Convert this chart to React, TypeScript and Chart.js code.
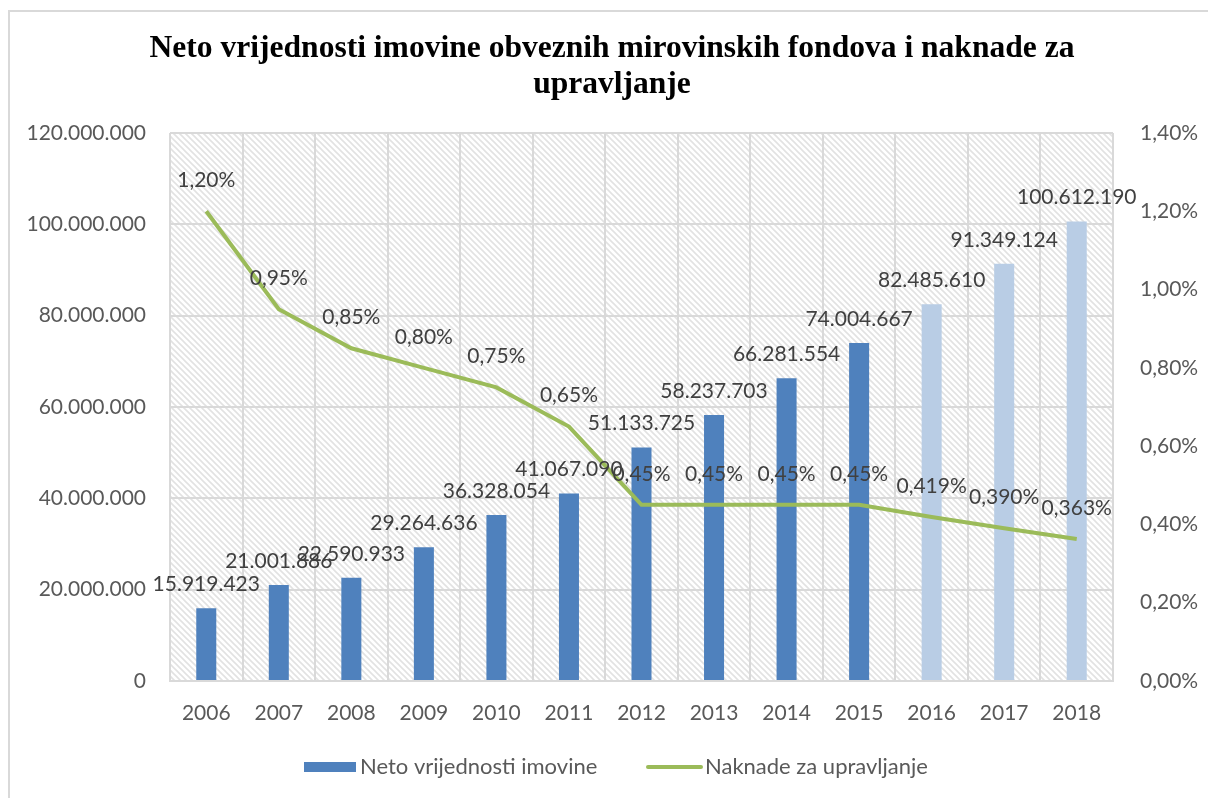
import React, { useEffect, useRef } from "react";
import { Chart, registerables } from "chart.js";

Chart.register(...registerables);

const titleLines = [
  "Neto vrijednosti imovine obveznih mirovinskih fondova i naknade za",
  "upravljanje",
];
const years = ["2006", "2007", "2008", "2009", "2010", "2011", "2012", "2013", "2014", "2015", "2016", "2017", "2018"];
const netAssets = [
  15919423, 21001886, 22590933, 29264636, 36328054, 41067090, 51133725, 58237703, 66281554, 74004667, 82485610,
  91349124, 100612190,
];
const managementFees = [1.2, 0.95, 0.85, 0.8, 0.75, 0.65, 0.45, 0.45, 0.45, 0.45, 0.419, 0.39, 0.363];
const isProjection = [false, false, false, false, false, false, false, false, false, false, true, true, true];
const seriesNames = ["Neto vrijednosti imovine", "Naknade za upravljanje"];

const BAR_COLOR = "#4F81BD";
const BAR_LIGHT = "#B9CDE5";
const LINE_COLOR = "#9BBB59";
const GRID = "#D9D9D9";
const TEXT = "#595959";
const LABEL = "#404040";
const FONT = "Lato";

const fmtThousands = (v: number) => String(Math.round(v)).replace(/\B(?=(\d{3})+(?!\d))/g, ".");
const fmtPct = (v: number, d: number) => v.toFixed(d).replace(".", ",") + "%";

function makeHatch(): CanvasPattern | string {
  const s = 6;
  const c = document.createElement("canvas");
  c.width = s;
  c.height = s;
  const g = c.getContext("2d");
  if (!g) return "#fff";
  g.fillStyle = "#ffffff";
  g.fillRect(0, 0, s, s);
  g.strokeStyle = "#e2e2e2";
  g.lineWidth = 1.6;
  g.beginPath();
  g.moveTo(-1, -1);
  g.lineTo(s + 1, s + 1);
  g.moveTo(s - 1, -1);
  g.lineTo(s + 1, 1);
  g.moveTo(-1, s - 1);
  g.lineTo(1, s + 1);
  g.stroke();
  const p = g.createPattern(c, "repeat");
  return p || "#fff";
}

export default function App() {
  const ref = useRef<HTMLCanvasElement | null>(null);

  useEffect(() => {
    const canvas = ref.current;
    if (!canvas) return;

    const bgPlugin = {
      id: "hatchBg",
      beforeDraw(chart: any) {
        const { ctx, chartArea } = chart;
        ctx.save();
        ctx.fillStyle = makeHatch();
        ctx.fillRect(chartArea.left, chartArea.top, chartArea.right - chartArea.left, chartArea.bottom - chartArea.top);
        ctx.restore();
      },
    };

    const decorPlugin = {
      id: "decor",
      afterDatasetsDraw(chart: any) {
        const { ctx } = chart;
        ctx.save();
        ctx.font = `21px ${FONT}`;
        ctx.fillStyle = LABEL;
        ctx.textAlign = "center";
        ctx.textBaseline = "middle";
        const barMeta = chart.getDatasetMeta(0);
        barMeta.data.forEach((el: any, i: number) => {
          ctx.fillText(fmtThousands(netAssets[i]), el.x, el.y - 24);
        });
        const lineMeta = chart.getDatasetMeta(1);
        lineMeta.data.forEach((el: any, i: number) => {
          ctx.fillText(fmtPct(managementFees[i], isProjection[i] ? 3 : 2), el.x, el.y - 31);
        });
        ctx.restore();
      },
      afterDraw(chart: any) {
        const { ctx } = chart;
        ctx.save();
        // title
        ctx.font = `bold 30px "Liberation Serif"`;
        const w = ctx.measureText(titleLines[0]).width;
        const size = (30 * 925) / w;
        ctx.font = `bold ${size.toFixed(2)}px "Liberation Serif"`;
        ctx.fillStyle = "#000";
        ctx.textAlign = "center";
        ctx.textBaseline = "middle";
        ctx.fillText(titleLines[0], 602, 37);
        ctx.fillText(titleLines[1], 602, 73);
        // legend
        const ly = 755;
        ctx.fillStyle = BAR_COLOR;
        ctx.fillRect(294, ly - 5, 52, 10);
        ctx.font = `22px ${FONT}`;
        ctx.fillStyle = TEXT;
        ctx.textAlign = "left";
        ctx.fillText(seriesNames[0], 350, ly);
        ctx.strokeStyle = LINE_COLOR;
        ctx.lineWidth = 4;
        ctx.lineCap = "round";
        ctx.beginPath();
        ctx.moveTo(638, ly);
        ctx.lineTo(691, ly);
        ctx.stroke();
        ctx.fillText(seriesNames[1], 695, ly);
        ctx.restore();
      },
    };

    const chart = new Chart(canvas, {
      data: {
        labels: years,
        datasets: [
          {
            type: "bar",
            label: seriesNames[0],
            data: netAssets,
            backgroundColor: netAssets.map((_, i) => (isProjection[i] ? BAR_LIGHT : BAR_COLOR)),
            yAxisID: "y",
            order: 1,
            categoryPercentage: 1,
            barPercentage: 0.276,
          },
          {
            type: "line",
            label: seriesNames[1],
            data: managementFees,
            borderColor: LINE_COLOR,
            backgroundColor: LINE_COLOR,
            borderWidth: 4,
            pointRadius: 0,
            tension: 0,
            yAxisID: "y1",
            order: 0,
          },
        ],
      } as any,
      options: {
        responsive: false,
        animation: false,
        layout: { padding: { top: 121, bottom: 67, left: 0, right: 0 } },
        plugins: {
          legend: { display: false },
          title: { display: false },
          tooltip: { enabled: false },
        },
        scales: {
          x: {
            offset: true,
            grid: { offset: true, color: GRID, lineWidth: 2, drawTicks: false },
            border: { color: GRID, width: 2 },
            ticks: { color: TEXT, font: { family: FONT, size: 21 }, padding: 20 },
            afterFit(scale: any) {
              scale.height = 50;
            },
          },
          y: {
            position: "left",
            min: 0,
            max: 120000000,
            grid: { color: GRID, lineWidth: 2, drawTicks: false },
            border: { display: false },
            ticks: {
              stepSize: 20000000,
              color: TEXT,
              font: { family: FONT, size: 21 },
              padding: 24,
              callback: (v: any) => fmtThousands(Number(v)),
            },
            afterFit(scale: any) {
              scale.width = 160;
            },
          },
          y1: {
            position: "right",
            min: 0,
            max: 1.4,
            grid: { display: false, drawTicks: false },
            border: { display: false },
            ticks: {
              stepSize: 0.2,
              color: TEXT,
              font: { family: FONT, size: 21 },
              padding: 27,
              callback: (v: any) => fmtPct(Number(v), 2),
            },
            afterFit(scale: any) {
              scale.width = 95;
            },
          },
        },
      } as any,
      plugins: [bgPlugin, decorPlugin],
    });

    return () => chart.destroy();
  }, []);

  return (
    <div
      style={{
        position: "absolute",
        left: 8,
        top: 10,
        width: 1200,
        height: 788,
        borderTop: "2px solid #d9d9d9",
        borderLeft: "2px solid #d9d9d9",
        boxSizing: "border-box",
        background: "#fff",
      }}
    >
      <canvas ref={ref} width={1198} height={786} style={{ display: "block" }} />
    </div>
  );
}
